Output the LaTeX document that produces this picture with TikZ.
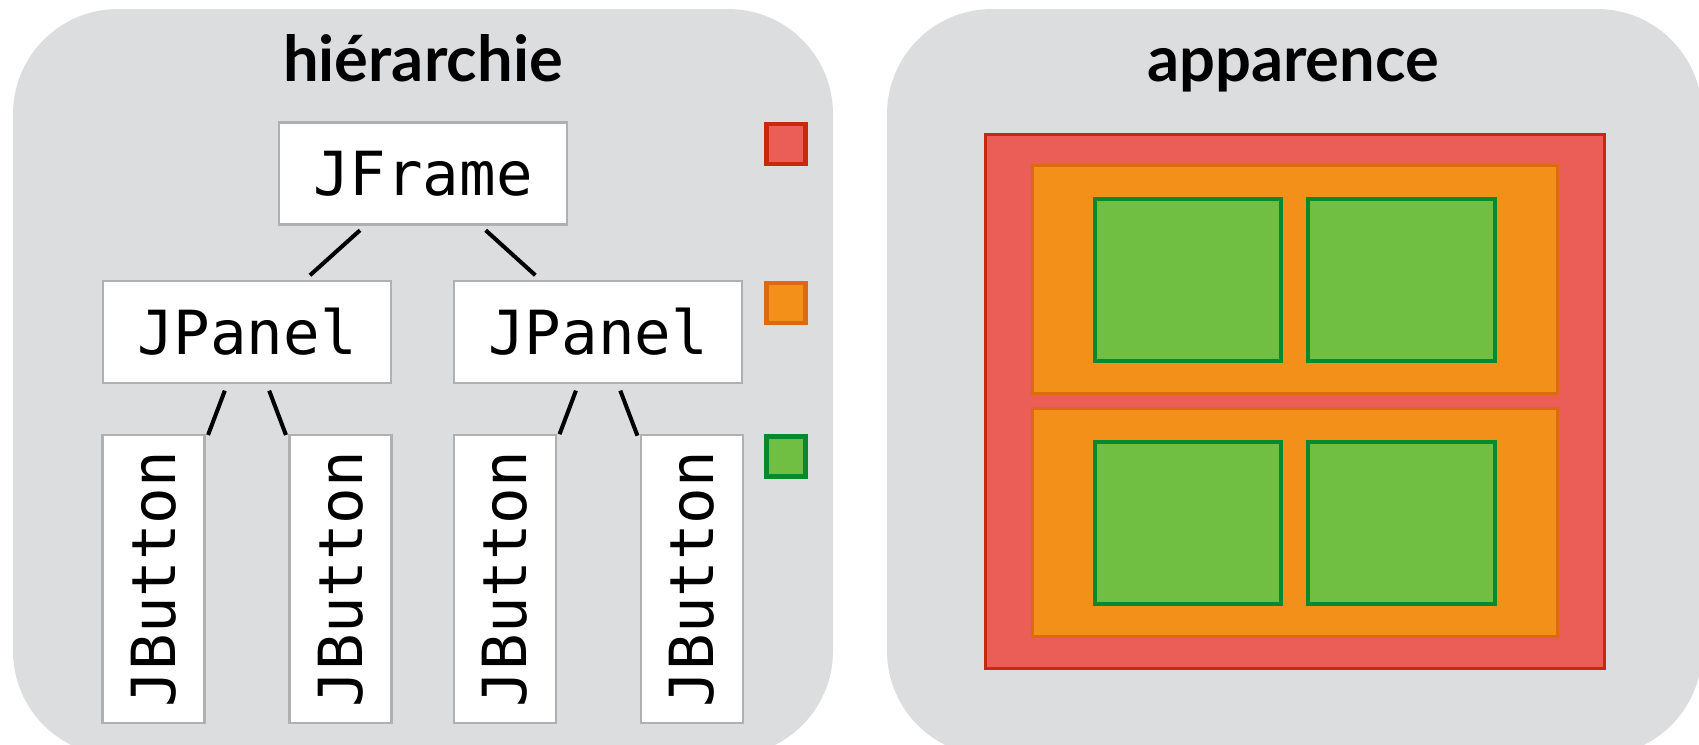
\documentclass[tikz,border=0pt]{standalone}
\usepackage{fontspec}
\setmonofont{DejaVu Sans Mono}
\newfontfamily\titlefont{Lato}
\usetikzlibrary{positioning}
\definecolor{panelgrey}{HTML}{DCDDDF}
\definecolor{redfill}{HTML}{EB5E57}
\definecolor{redline}{HTML}{C8290A}
\definecolor{orangefill}{HTML}{F29019}
\definecolor{orangeline}{HTML}{DC6A10}
\definecolor{greenfill}{HTML}{70BF43}
\definecolor{greenline}{HTML}{078A2D}
\definecolor{boxline}{HTML}{B0B0B0}
\tikzset{comp/.style={draw=boxline, line width=0.6pt, fill=white, inner sep=0pt,
    font=\fontsize{17.3}{17.3}\selectfont\ttfamily}}
\tikzset{wide/.style={comp, minimum width=28.8mm, minimum height=10.2mm}}
\tikzset{tall/.style={comp, rotate=90, minimum width=28.8mm, minimum height=10.2mm}}
\tikzset{link/.style={line width=1.15pt, shorten <=2pt, shorten >=2pt}}
\tikzset{titre/.style={font=\titlefont\bfseries\fontsize{18}{18}\selectfont, anchor=base}}
\tikzset{swatch/.style={line width=1.15pt, minimum width=3.9mm, minimum height=4mm, inner sep=0pt}}

\begin{document}
\begin{tikzpicture}[x=0.1mm, y=-0.1mm]
        \useasboundingbox (0,0) rectangle (1699,744);
        % fonds
        \fill[panelgrey, rounded corners=10.5mm] (13,9) rectangle (833,756);
        \fill[panelgrey, rounded corners=10.5mm] (887,9) rectangle (1702,756);
        \node[titre] (t1) at (423,81) {hiérarchie};
        \node[titre] (t2) at (1293,81) {apparence};
        % arbre
        \node[wide] (frame) at (423,173.5) {JFrame};
        \node[wide] (panelA) at (247,332) {JPanel}
          edge [link] (frame);
        \node[wide] (panelB) at (598,332) {JPanel}
          edge [link] (frame);
        \node[tall] (buttonA) at (153.5,579) {JButton}
          edge [link] (panelA);
        \node[tall] (buttonB) at (340.5,579) {JButton}
          edge [link] (panelA);
        \node[tall] (buttonC) at (505,579) {JButton}
          edge [link] (panelB);
        \node[tall] (buttonD) at (692,579) {JButton}
          edge [link] (panelB);
        % legende
        \node[swatch, draw=redline, fill=redfill] (sr) at (786,144) {};
        \node[swatch, draw=orangeline, fill=orangefill] (so) at (786,303) {};
        \node[swatch, draw=greenline, fill=greenfill] (sg) at (786,456.5) {};
        % apparence
        \filldraw[redline, fill=redfill, line width=1.1pt] (985.5,134.5) rectangle (1604.5,668.5);
        \filldraw[orangeline, fill=orangefill, line width=1.1pt] (1032.5,165.5) rectangle (1557.5,393.5);
        \filldraw[orangeline, fill=orangefill, line width=1.1pt] (1032.5,408.5) rectangle (1557.5,636.5);
        \filldraw[greenline, fill=greenfill, line width=1.3pt] (1095,199) rectangle (1281,361);
        \filldraw[greenline, fill=greenfill, line width=1.3pt] (1308,199) rectangle (1495,361);
        \filldraw[greenline, fill=greenfill, line width=1.3pt] (1095,442) rectangle (1281,604);
        \filldraw[greenline, fill=greenfill, line width=1.3pt] (1308,442) rectangle (1495,604);
      \end{tikzpicture}
\end{document}
